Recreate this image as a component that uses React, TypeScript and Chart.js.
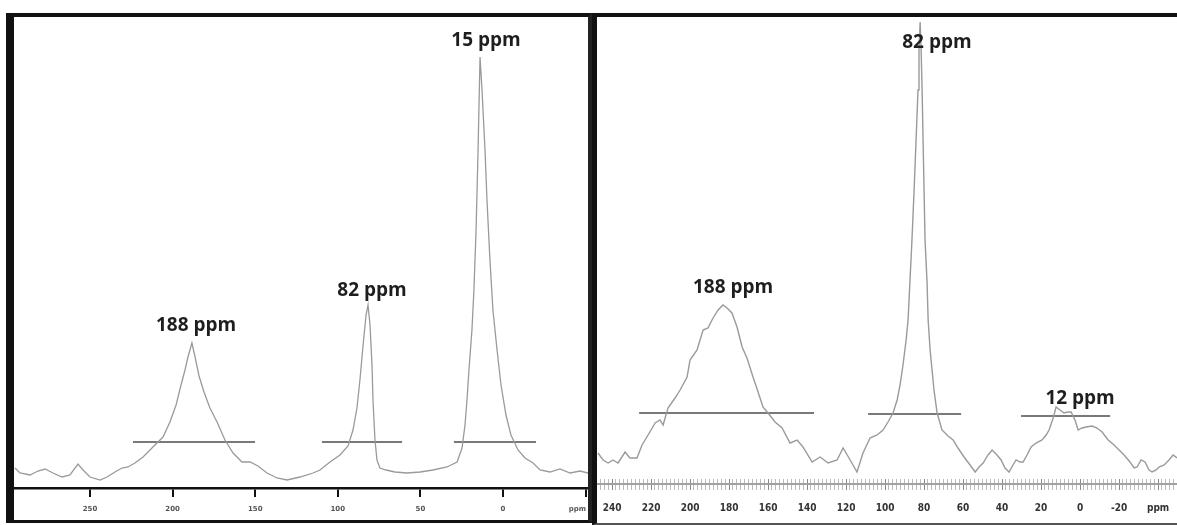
import React, { useEffect, useRef } from 'react';
import { Chart, registerables } from 'chart.js';

Chart.register(...registerables);

// ---------- Left spectrum ----------
const leftPpm = [295.4, 292.4, 286.3, 281.5, 277.2, 272.4, 266.9, 262.1, 257.3, 254.2, 250.0, 243.9, 239.7, 234.9, 230.6, 227.0, 222.8, 217.9, 211.9, 205.8, 201.6, 197.9, 194.9, 192.5, 190.7, 188.3, 186.4, 184.0, 181.0, 177.4, 173.1, 168.3, 163.4, 158.0, 153.1, 148.3, 142.9, 136.8, 130.7, 122.9, 115.0, 110.8, 104.7, 98.7, 93.8, 90.8, 88.4, 86.6, 84.7, 82.9, 81.7, 80.5, 79.3, 78.7, 77.5, 76.3, 74.5, 70.8, 65.4, 58.1, 50.2, 42.4, 33.9, 27.8, 24.8, 23.0, 21.8, 20.6, 18.8, 17.6, 16.3, 15.1, 13.9, 12.7, 10.9, 9.7, 7.9, 6.1, 3.6, 1.2, -1.8, -4.8, -9.1, -13.3, -18.2, -22.4, -28.4, -34.5, -40.6, -46.6, -51.5];
const leftIntensity = [20, 15, 13, 17, 19, 15, 11, 13, 24, 18, 11, 8, 11, 16, 20, 21, 25, 31, 41, 51, 66, 83, 103, 118, 131, 145, 131, 112, 96, 80, 66, 48, 35, 26, 26, 22, 15, 10, 8, 11, 15, 18, 26, 33, 42, 58, 80, 108, 143, 173, 183, 163, 123, 88, 48, 28, 20, 18, 16, 15, 16, 18, 21, 26, 40, 63, 88, 118, 158, 198, 258, 338, 431, 398, 338, 288, 228, 178, 138, 103, 73, 53, 38, 30, 25, 18, 16, 19, 15, 17, 15];
const leftIntegralStart = [224.0, 109.6, 29.7];
const leftIntegralEnd = [150.1, 61.1, -20.0];
const leftIntegralLevel = [46, 46, 46];
const leftPeakLabels = ['188 ppm', '82 ppm', '15 ppm'];
const leftLabelPpm = [185.8, 79.3, 10.3];
const leftLabelY = [162, 197, 447];
const leftTicks = [250, 200, 150, 100, 50, 0, -45, -50];
const leftTickLabels = ['250', '200', '150', '100', '50', '0', 'ppm', ''];
const leftTickMarked = [true, true, true, true, true, true, false, true];

// ---------- Right spectrum ----------
const rightPpm = [247.2, 244.6, 242.0, 239.5, 236.9, 233.3, 230.8, 227.2, 224.6, 221.5, 217.9, 215.4, 213.8, 211.3, 207.7, 205.1, 201.5, 200.0, 196.4, 193.3, 190.8, 188.2, 185.6, 183.1, 181.0, 178.5, 175.9, 173.3, 170.8, 167.7, 165.1, 162.6, 160.0, 156.4, 152.8, 148.7, 145.1, 142.1, 137.4, 133.3, 129.2, 124.6, 121.5, 117.9, 114.4, 111.3, 107.7, 104.1, 101.0, 98.5, 95.9, 93.8, 92.3, 90.8, 89.2, 88.2, 87.2, 86.2, 85.1, 84.1, 83.1, 82.6, 82.0, 81.5, 81.0, 80.5, 80.0, 79.5, 78.5, 77.9, 76.9, 75.9, 74.9, 73.3, 70.8, 67.7, 65.1, 62.6, 59.5, 56.4, 53.8, 51.8, 49.7, 47.2, 45.1, 42.6, 40.5, 38.5, 36.4, 34.4, 32.8, 30.8, 29.2, 27.2, 25.1, 22.6, 19.5, 17.4, 15.9, 13.8, 12.3, 10.3, 8.2, 6.2, 4.6, 2.6, 1.0, -1.0, -3.1, -6.2, -8.7, -11.3, -14.4, -17.4, -20.0, -22.6, -25.6, -27.7, -29.2, -31.3, -33.3, -35.4, -36.9, -39.0, -40.5, -43.1, -45.6, -47.7, -49.7];
const rightIntensity = [31, 24, 21, 24, 21, 32, 26, 26, 39, 49, 61, 64, 59, 76, 86, 94, 107, 124, 134, 154, 156, 166, 174, 179, 176, 171, 157, 137, 126, 107, 92, 77, 71, 62, 56, 41, 44, 37, 22, 27, 21, 24, 36, 24, 12, 31, 46, 49, 54, 62, 71, 84, 99, 119, 144, 164, 204, 244, 294, 344, 394, 434, 462, 434, 394, 344, 294, 244, 204, 164, 134, 114, 94, 71, 54, 48, 44, 36, 27, 19, 12, 17, 21, 29, 34, 29, 24, 16, 12, 19, 24, 22, 22, 29, 37, 41, 44, 49, 54, 66, 77, 74, 71, 72, 72, 64, 54, 56, 57, 58, 56, 52, 44, 39, 34, 29, 22, 16, 17, 24, 22, 14, 12, 14, 17, 19, 24, 29, 26];
const rightIntegralStart = [226.1, 108.7, 30.3];
const rightIntegralEnd = [136.4, 61.0, -15.4];
const rightIntegralLevel = [71, 70, 68];
const rightPeakLabels = ['188 ppm', '82 ppm', '12 ppm'];
const rightLabelPpm = [177.9, 73.4, 0.0];
const rightLabelY = [196, 441, 85];
const rightMajorTicks = [240, 220, 200, 180, 160, 140, 120, 100, 80, 60, 40, 20, 0, -20];
const rightUnitTick = -40;
const rightAxisLevel = 0;

const peakLabelPlugin = {
  id: 'peakLabels',
  afterDatasetsDraw(chart: any, _args: any, opts: any) {
    const { ctx, scales } = chart;
    const labels: string[] = opts.labels || [];
    ctx.save();
    ctx.font = opts.font;
    ctx.fillStyle = opts.color;
    ctx.textAlign = 'center';
    ctx.textBaseline = 'middle';
    labels.forEach((t, i) => {
      const x = scales.x.getPixelForValue(opts.ppm[i]);
      const y = scales.y.getPixelForValue(opts.y[i]);
      ctx.fillText(t, x, y);
    });
    ctx.restore();
  },
};

type PanelProps = {
  width: number;
  height: number;
  ppmMax: number;
  ppmMin: number;
  yMin: number;
  yMax: number;
  axisHeight: number;
  ppm: number[];
  intensity: number[];
  intStart: number[];
  intEnd: number[];
  intLevel: number[];
  labels: string[];
  labelPpm: number[];
  labelY: number[];
  tickValues: number[];
  tickLabel: (v: number) => string;
  tickColor: (v: number) => string;
  tickWidth: (v: number) => number;
  tickLength: number;
  tickPadding: number;
  tickFont: any;
  tickFontColor: string;
  borderShow: boolean;
  borderColor: string;
  borderWidth: number;
  lineColor: string;
  lineWidth: number;
  axisLine?: { level: number; color: string; width: number };
};

function Panel(p: PanelProps) {
  const ref = useRef<HTMLCanvasElement | null>(null);
  useEffect(() => {
    if (!ref.current) return;
    const spectrum = p.ppm.map((x, i) => ({ x, y: p.intensity[i] }));
    const integralSets = p.intStart.map((s, i) => ({
      data: [
        { x: s, y: p.intLevel[i] },
        { x: p.intEnd[i], y: p.intLevel[i] },
      ],
      borderColor: '#4d4d4d',
      borderWidth: 1.6,
      pointRadius: 0,
      tension: 0,
    }));
    const extra: any[] = [];
    if (p.axisLine) {
      extra.push({
        data: [
          { x: p.ppmMax, y: p.axisLine.level },
          { x: p.ppmMin, y: p.axisLine.level },
        ],
        borderColor: p.axisLine.color,
        borderWidth: p.axisLine.width,
        pointRadius: 0,
        tension: 0,
        clip: false,
      });
    }
    const chart = new Chart(ref.current, {
      type: 'line',
      data: {
        datasets: [
          {
            data: spectrum,
            borderColor: p.lineColor,
            borderWidth: p.lineWidth,
            pointRadius: 0,
            tension: 0,
          },
          ...integralSets,
          ...extra,
        ],
      },
      plugins: [peakLabelPlugin],
      options: {
        animation: false,
        responsive: false,
        layout: { padding: 0 },
        plugins: {
          legend: { display: false },
          tooltip: { enabled: false },
          peakLabels: {
            labels: p.labels,
            ppm: p.labelPpm,
            y: p.labelY,
            font: "bold 19px 'Open Sans', sans-serif",
            color: '#1e1e1e',
          },
        } as any,
        scales: {
          x: {
            type: 'linear',
            reverse: true,
            min: p.ppmMin,
            max: p.ppmMax,
            afterBuildTicks: (scale: any) => {
              scale.ticks = p.tickValues.map((v) => ({ value: v }));
            },
            afterFit: (scale: any) => {
              scale.height = p.axisHeight;
              scale.paddingLeft = 0;
              scale.paddingRight = 0;
            },
            grid: {
              drawOnChartArea: false,
              drawTicks: true,
              tickLength: p.tickLength,
              color: (c: any) => p.tickColor(c.tick ? c.tick.value : 0),
              lineWidth: (c: any) => p.tickWidth(c.tick ? c.tick.value : 0),
            },
            border: { display: p.borderShow, color: p.borderColor, width: p.borderWidth },
            ticks: {
              autoSkip: false,
              maxRotation: 0,
              minRotation: 0,
              padding: p.tickPadding,
              font: p.tickFont,
              color: p.tickFontColor,
              callback: (v: any) => p.tickLabel(Number(v)),
            },
          },
          y: {
            type: 'linear',
            display: false,
            min: p.yMin,
            max: p.yMax,
          },
        },
      } as any,
    });
    return () => chart.destroy();
  }, []);
  return <canvas ref={ref} width={p.width} height={p.height} style={{ display: 'block' }} />;
}

const rightTickValues: number[] = [];
for (let v = 246; v >= -48; v -= 2) rightTickValues.push(v);

export default function App() {
  return (
    <div
      style={{
        position: 'fixed',
        left: 0,
        top: 0,
        width: 1177,
        height: 525,
        background: '#fff',
        overflow: 'hidden',
      }}
    >
      {/* left panel */}
      <div
        style={{
          position: 'absolute',
          left: 6,
          top: 13,
          width: 586,
          height: 510,
          boxSizing: 'border-box',
          borderTop: '4px solid #111',
          borderLeft: '8px solid #111',
          borderRight: '4px solid #222',
          borderBottom: '3px solid #111',
        }}
      >
        <Panel
          width={574}
          height={503}
          ppmMax={296.0}
          ppmMin={-51.45}
          yMin={0}
          yMax={471}
          axisHeight={32}
          ppm={leftPpm}
          intensity={leftIntensity}
          intStart={leftIntegralStart}
          intEnd={leftIntegralEnd}
          intLevel={leftIntegralLevel}
          labels={leftPeakLabels}
          labelPpm={leftLabelPpm}
          labelY={leftLabelY}
          tickValues={leftTicks}
          tickLabel={(v) => leftTickLabels[leftTicks.indexOf(v)] ?? ''}
          tickColor={(v) => (leftTickMarked[leftTicks.indexOf(v)] ? '#111' : 'rgba(0,0,0,0)')}
          tickWidth={() => 2}
          tickLength={9}
          tickPadding={8}
          tickFont={{ family: "'DejaVu Sans', sans-serif", size: 7, weight: 'bold' }}
          tickFontColor="#555"
          borderShow={true}
          borderColor="#111"
          borderWidth={2.5}
          lineColor="#9a9a9a"
          lineWidth={1.3}
        />
      </div>
      {/* right panel */}
      <div
        style={{
          position: 'absolute',
          left: 592,
          top: 13,
          width: 585,
          height: 512,
          boxSizing: 'border-box',
          borderTop: '4px solid #111',
          borderLeft: '5px solid #111',
          borderBottom: '2px solid #555',
        }}
      >
        <Panel
          width={580}
          height={506}
          ppmMax={247.7}
          ppmMin={-49.7}
          yMin={5}
          yMax={467}
          axisHeight={44}
          ppm={rightPpm}
          intensity={rightIntensity}
          intStart={rightIntegralStart}
          intEnd={rightIntegralEnd}
          intLevel={rightIntegralLevel}
          labels={rightPeakLabels}
          labelPpm={rightLabelPpm}
          labelY={rightLabelY}
          tickValues={rightTickValues}
          tickLabel={(v) =>
            v === rightUnitTick ? 'ppm' : rightMajorTicks.includes(v) ? String(v) : ''
          }
          tickColor={(v) => (v % 20 === 0 ? '#888' : '#bbb')}
          tickWidth={() => 1}
          tickLength={11}
          tickPadding={12}
          tickFont={{ family: "'Liberation Sans Narrow', 'DejaVu Sans Condensed', sans-serif", size: 10, weight: 'bold' }}
          tickFontColor="#333"
          borderShow={false}
          borderColor="#a0a0a0"
          borderWidth={2}
          lineColor="#9a9a9a"
          lineWidth={1.4}
          axisLine={{ level: rightAxisLevel, color: '#a0a0a0', width: 2 }}
        />
      </div>
    </div>
  );
}
